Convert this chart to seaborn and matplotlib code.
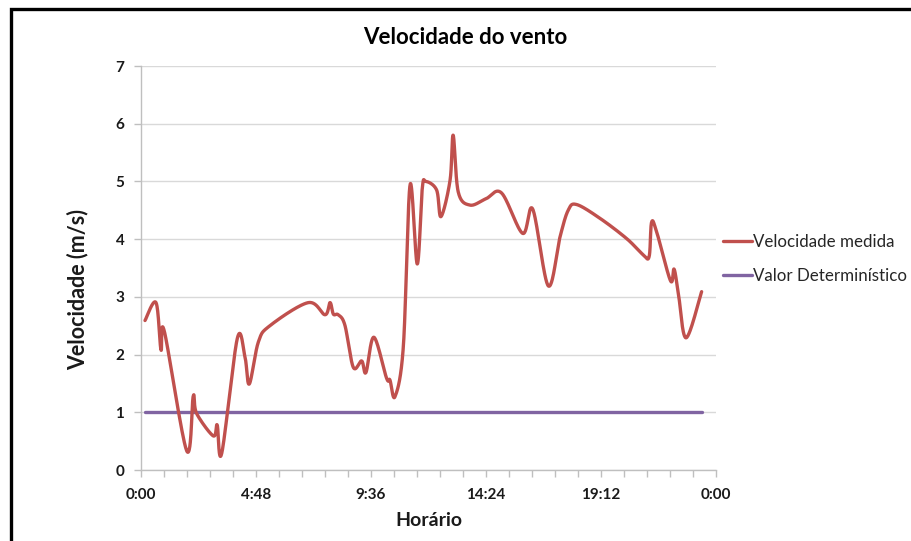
import numpy as np
import pandas as pd
import matplotlib
matplotlib.use("Agg")
import matplotlib.pyplot as plt
from matplotlib.patches import Rectangle
from matplotlib.lines import Line2D
import seaborn as sns

# Measurement times (hours of the day) and measured wind speed (m/s)
horas = [0.167, 0.626, 0.835, 0.97, 1.91, 2.18, 2.32, 3.02, 3.18, 3.37,
         4.02, 4.34, 4.52, 4.90, 5.38, 6.98, 7.68, 7.89, 8.03, 8.23,
         8.51, 8.86, 9.21, 9.39, 9.72, 10.25, 10.39, 10.60, 10.95, 11.23,
         11.53, 11.74, 11.89, 12.34, 12.52, 12.90, 13.03, 13.24, 13.73, 14.40,
         15.05, 15.93, 16.35, 17.00, 17.49, 17.83, 18.18, 19.16, 20.27, 20.96,
         21.21, 21.31, 21.52, 22.10, 22.25, 22.43, 22.75, 23.40]
velocidade = [2.59, 2.90, 2.08, 2.41, 0.33, 1.28, 0.98, 0.59, 0.78, 0.29,
              2.28, 1.96, 1.49, 2.22, 2.50, 2.90, 2.69, 2.90, 2.70, 2.69,
              2.51, 1.78, 1.89, 1.69, 2.30, 1.59, 1.56, 1.27, 2.14, 4.94,
              3.57, 4.88, 5.00, 4.85, 4.39, 5.02, 5.80, 4.82, 4.59, 4.70,
              4.80, 4.10, 4.52, 3.19, 4.04, 4.50, 4.60, 4.36, 4.01, 3.73,
              3.70, 4.29, 4.13, 3.28, 3.48, 3.06, 2.29, 3.09]
valor_determinístico = 1.0

x_ticks = [0, 4.8, 9.6, 14.4, 19.2, 24]
x_labels = ["0:00", "4:48", "9:36", "14:24", "19:12", "0:00"]
y_ticks = [0, 1, 2, 3, 4, 5, 6, 7]

RED = "#C0504D"
PURPLE = "#8064A2"
GRID = "#D9D9D9"


def smooth_line(xs, ys, n=30):
    """Smoothed line through the points (cubic Bezier, 1/6 tangent rule)."""
    p = np.column_stack([xs, ys]).astype(float)
    p_ext = np.vstack([p[0], p, p[-1]])
    t = np.linspace(0, 1, n)[:, None]
    out = []
    for i in range(1, len(p_ext) - 2):
        p0, p1, p2, p3 = p_ext[i - 1], p_ext[i], p_ext[i + 1], p_ext[i + 2]
        c1 = p1 + (p2 - p0) / 6.0
        c2 = p2 - (p3 - p1) / 6.0
        seg = ((1 - t) ** 3) * p1 + 3 * ((1 - t) ** 2) * t * c1 \
            + 3 * (1 - t) * t ** 2 * c2 + t ** 3 * p2
        out.append(seg if i == 1 else seg[1:])
    arr = np.vstack(out)
    return arr[:, 0], arr[:, 1]


sns.set_theme(style="white")
plt.rcParams["font.family"] = ["Lato", "DejaVu Sans"]

fig = plt.figure(figsize=(9.11, 5.41), dpi=100)
ax = fig.add_axes([141 / 911, 1 - 470 / 541, (716 - 141) / 911, (470 - 66) / 541])

sx, sy = smooth_line(horas, velocidade)
curva = pd.DataFrame({"hora": sx, "velocidade": sy})
det = pd.DataFrame({"hora": [horas[0], horas[-1]],
                    "velocidade": [valor_determinístico] * 2})

sns.lineplot(data=curva, x="hora", y="velocidade", sort=False, ax=ax,
             color=RED, linewidth=2.4, zorder=4, estimator=None)
sns.lineplot(data=det, x="hora", y="velocidade", ax=ax,
             color=PURPLE, linewidth=2.4, zorder=3, estimator=None)

ax.set_xlim(0, 24)
ax.set_ylim(0, 7)
ax.set_yticks(y_ticks)
ax.set_yticklabels([str(v) for v in y_ticks])
ax.set_xticks(x_ticks)
ax.set_xticklabels(x_labels)
ax.set_xticks(np.arange(0, 24.01, 0.96), minor=True)

ax.yaxis.grid(True, color=GRID, linewidth=1.0)
ax.xaxis.grid(False)
for s in ["top", "right"]:
    ax.spines[s].set_visible(False)
for s in ["left", "bottom"]:
    ax.spines[s].set_color("#BFBFBF")
    ax.spines[s].set_linewidth(1.0)

ax.tick_params(axis="x", which="both", direction="out", length=5, width=1,
               color="#BFBFBF", bottom=True, pad=8)
ax.tick_params(axis="y", which="major", direction="out", length=5, width=1,
               color="#BFBFBF", left=True, pad=7)
for lab in ax.get_xticklabels() + ax.get_yticklabels():
    lab.set_fontweight("bold")
    lab.set_fontsize(11)
    lab.set_color("#1a1a1a")

ax.set_xlabel("Horário", fontsize=14, fontweight="bold", color="#1a1a1a",
              labelpad=7)
ax.set_ylabel("")
fig.text(78 / 911, 1 - 290 / 541, "Velocidade (m/s)", rotation=90,
         ha="center", va="center", fontsize=15.5, fontweight="bold",
         color="#1a1a1a")

fig.text(465 / 911, 1 - 37 / 541, "Velocidade do vento", ha="center",
         va="center", fontsize=16, fontweight="bold", color="#000000")

handles = [Line2D([], [], color=RED, linewidth=2.4),
           Line2D([], [], color=PURPLE, linewidth=2.4)]
fig.legend(handles, ["Velocidade medida", "Valor Determinístico"],
           loc="center left", bbox_to_anchor=(718 / 911, 1 - 259 / 541),
           frameon=False, fontsize=12.2, handlelength=1.7,
           handletextpad=0.08, labelspacing=1.02, borderaxespad=0,
           borderpad=0.3)

# chart frame
fig.patches.append(Rectangle((10.5 / 911, -0.1), 1.2, 1.1 - 9 / 541,
                             transform=fig.transFigure, fill=False,
                             edgecolor="black", linewidth=2.4, zorder=10))

fig.savefig("out.png", dpi=100)
